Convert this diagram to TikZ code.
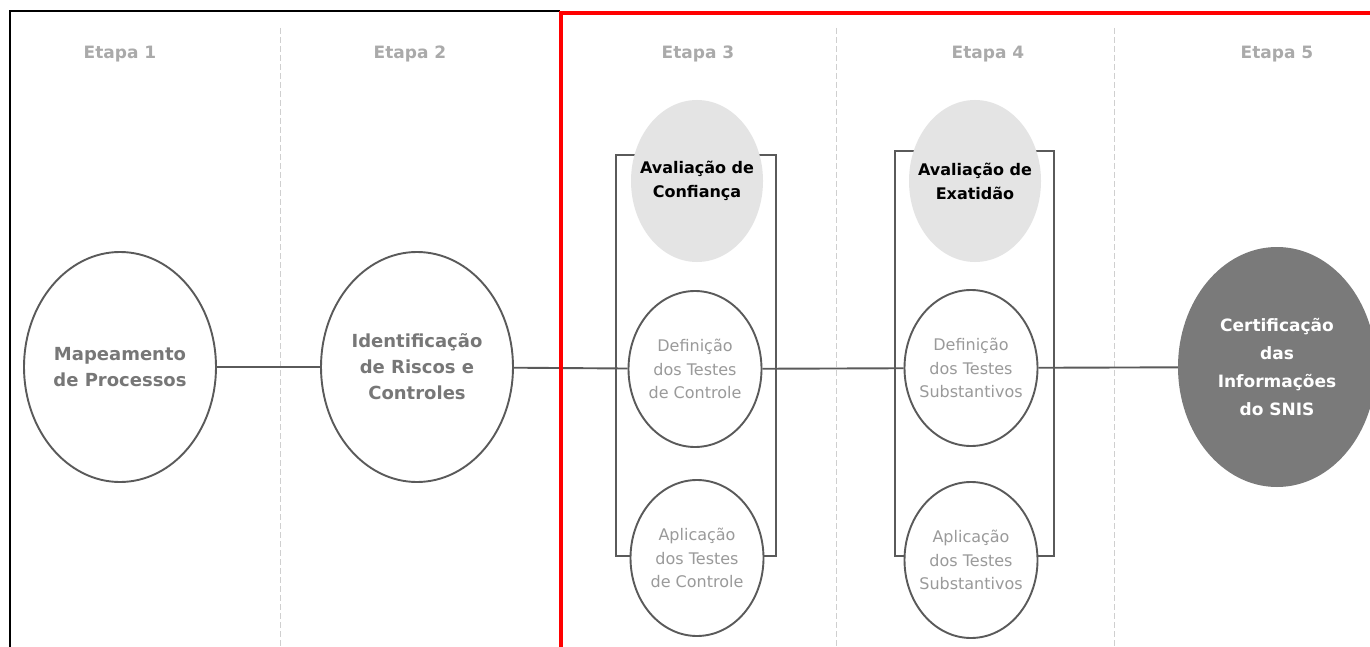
\documentclass[tikz,border=0pt]{standalone}
\usepackage{fontspec}
\setmainfont{DejaVu Sans}
\usetikzlibrary{shapes.geometric}
\definecolor{stagegray}{HTML}{AAAAAA}
\definecolor{strokegray}{HTML}{5A5A5A}
\definecolor{bigtext}{HTML}{777777}
\definecolor{smalltext}{HTML}{9A9A9A}
\definecolor{lightfill}{HTML}{E4E4E4}
\definecolor{darkfill}{HTML}{7A7A7A}
\definecolor{divider}{HTML}{CFCFCF}
\tikzset{
  stagelabel/.style={font=\bfseries\fontsize{17}{20}\selectfont, text=stagegray},
  bigstep/.style={ellipse, draw=strokegray, line width=1.9pt, fill=white,
    minimum width=192pt, minimum height=230pt, inner sep=0pt, align=center,
    text=bigtext, font=\bfseries\fontsize{18}{26}\selectfont},
  substep/.style={ellipse, draw=strokegray, line width=1.9pt, fill=white,
    minimum width=133pt, minimum height=156pt, inner ysep=0pt, inner xsep=-14pt,
    align=center, text=smalltext, font=\fontsize{16}{23.5}\selectfont},
  evalstep/.style={ellipse, fill=lightfill, minimum width=132pt, minimum height=162pt,
    inner ysep=0pt, inner xsep=-14pt, align=center, text=black,
    font=\bfseries\fontsize{16}{24}\selectfont},
  finalstep/.style={ellipse, fill=darkfill, minimum width=198pt, minimum height=240pt,
    inner sep=0pt, align=center, text=white, font=\bfseries\fontsize{17}{28}\selectfont},
  flow/.style={draw=strokegray, line width=1.9pt},
  bracketline/.style={draw=strokegray, line width=1.9pt},
  stagedivider/.style={draw=divider, line width=1pt, dash pattern=on 6pt off 3pt},
}
\begin{document}
\begin{tikzpicture}[x=1pt, y=-1pt]
  \useasboundingbox (0,0) rectangle (1370,647);
  \clip (0,0) rectangle (1370,647);
  \fill[white] (0,0) rectangle (1370,647);

  % dashed stage dividers
  \foreach \xd in {280,836,1114}
    \draw[stagedivider] (\xd,28) -- (\xd,647);

  % stage titles
  \node[stagelabel] (t1) at (120,54) {Etapa 1};
  \node[stagelabel] (t2) at (410,54) {Etapa 2};
  \node[stagelabel] (t3) at (698,54) {Etapa 3};
  \node[stagelabel] (t4) at (988,54) {Etapa 4};
  \node[stagelabel] (t5) at (1277,54) {Etapa 5};

  % brackets grouping the sub-steps of stages 3 and 4
  \draw[bracketline] (616,155) rectangle (776,556);
  \draw[bracketline] (895,151) rectangle (1054,556);

  % stage nodes
  \node[bigstep] (map) at (120,367) {Mapeamento\\de Processos};
  \node[bigstep] (risk) at (417,367) {Identificação\\de Riscos e\\Controles};

  \node[evalstep] (conf) at (697,181) {Avaliação de\\Confiança};
  \node[substep] (defc) at (695,369) {Definição\\dos Testes\\de Controle};
  \node[substep] (aplc) at (697,558) {Aplicação\\dos Testes\\de Controle};

  \node[evalstep] (exat) at (975,181) {Avaliação de\\Exatidão};
  \node[substep] (defs) at (971,368) {Definição\\dos Testes\\Substantivos};
  \node[substep] (apls) at (971,560) {Aplicação\\dos Testes\\Substantivos};

  \node[finalstep] (cert) at (1277,367) {Certificação\\das\\Informações\\do SNIS};

  % main flow
  \draw[flow] (map) -- (risk);
  \draw[flow] (risk) -- (defc);
  \draw[flow] (defc) -- (defs);
  \draw[flow] (defs) -- (cert);

  % frames
  \draw[black, line width=1.8pt] (10,647) -- (10,11) -- (560,11);
  \draw[red, line width=4pt] (561,647) -- (561,13) -- (1372,13);
\end{tikzpicture}
\end{document}
